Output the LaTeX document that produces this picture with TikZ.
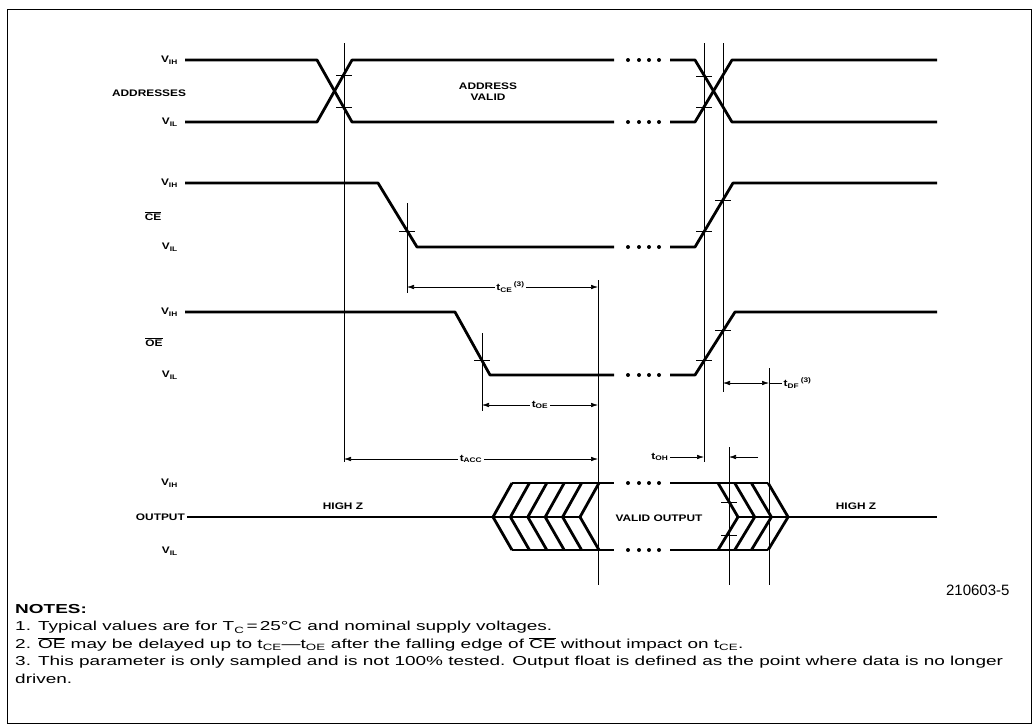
\documentclass[tikz,border=0pt]{standalone}
\usepackage{fontspec}
\setmainfont{Liberation Sans}
\newfontfamily\lblfont{Liberation Sans}[FakeStretch=1.25]
\newfontfamily\notefont{Liberation Sans}[FakeStretch=1.46]
\usetikzlibrary{arrows.meta}

\newcommand{\vih}{V\textsubscript{IH}}
\newcommand{\vil}{V\textsubscript{IL}}
\newcommand{\barsig}[1]{$\overline{\mbox{#1}}$}

\begin{document}
\begin{tikzpicture}[x=1pt, y=-1pt,
    sig/.style={line width=2.8pt, line join=round},
    refline/.style={line width=0.7pt},
    tick/.style={line width=0.7pt},
    dimline/.style={line width=0.6pt, {Latex[length=7pt,width=4.5pt]}-{Latex[length=7pt,width=4.5pt]}},
    lbl/.style={font=\lblfont\bfseries\fontsize{9.5}{11}\selectfont, inner sep=1pt},
    dimlbl/.style={font=\lblfont\bfseries\fontsize{9.5}{11}\selectfont, fill=white, inner sep=1.5pt}]

    \useasboundingbox (0,0) rectangle (1034,726);
    \draw[line width=0.9pt] (7,9) rectangle (1031,723);

    % labels on the left
    \node[lbl, anchor=east] (aih) at (179,60) {\vih};
    \node[lbl] (addr) at (149,93) {ADDRESSES};
    \node[lbl, anchor=east] (ail) at (179,122) {\vil};
    \node[lbl, anchor=east] (cih) at (179,183) {\vih};
    \node[lbl] (ce) at (153,216) {\barsig{CE}};
    \node[lbl, anchor=east] (cil) at (179,247) {\vil};
    \node[lbl, anchor=east] (oih) at (179,312) {\vih};
    \node[lbl] (oe) at (154,342) {\barsig{OE}};
    \node[lbl, anchor=east] (oil) at (179,375) {\vil};
    \node[lbl, anchor=east] (qih) at (179,483) {\vih};
    \node[lbl, anchor=east] (out) at (186,517) {OUTPUT};
    \node[lbl, anchor=east] (qil) at (179,551) {\vil};

    % addresses
    \draw[sig] (185,60) -- (317,60) -- (352,122) -- (614,122);
    \draw[sig] (185,122) -- (317,122) -- (352,60) -- (614,60);
    \draw[sig] (670,60) -- (695,60) -- (732,122) -- (937,122);
    \draw[sig] (670,122) -- (695,122) -- (732,60) -- (937,60);
    \node[lbl, align=center] (valid) at (488,92) {ADDRESS\\VALID};

    % chip enable
    \draw[sig] (185,183) -- (378,183) -- (417,247) -- (614,247);
    \draw[sig] (670,247) -- (695,247) -- (733,183) -- (937,183);

    % output enable
    \draw[sig] (185,312) -- (455,312) -- (490,375) -- (614,375);
    \draw[sig] (670,375) -- (695,375) -- (735,312) -- (937,312);

    % output
    \draw[sig] (187,517) -- (580,517);
    \draw[sig] (512,483) -- (614,483) (670,483) -- (768,483);
    \draw[sig] (512,550) -- (614,550) (670,550) -- (768,550);
    \draw[sig] (738,517) -- (937,517);
    \foreach \k in {0,...,5}
        \draw[sig] ({512+17.4*\k},483) -- ({493+17.4*\k},517) -- ({512+17.4*\k},550);
    \foreach \k in {0,...,3}
        \draw[sig] ({718+16.7*\k},483) -- ({738+16.7*\k},517) -- ({718+16.7*\k},550);
    \node[lbl] (hz1) at (343,506) {HIGH Z};
    \node[lbl] (vout) at (659,518) {VALID OUTPUT};
    \node[lbl] (hz2) at (856,506) {HIGH Z};

    % dotted gaps
    \foreach \y in {60,122,247,375,483,550}
        \foreach \x in {628,639,649,659}
            \fill (\x,\y) circle (2pt);

    % reference lines
    \draw[refline] (344,43) -- (344,462);
    \draw[refline] (704,43) -- (704,462);
    \draw[refline] (723,43) -- (723,392);
    \draw[refline] (407,203) -- (407,293);
    \draw[refline] (482,333) -- (482,411);
    \draw[refline] (598,280) -- (598,585);
    \draw[refline] (729,447) -- (729,585);
    \draw[refline] (769,368) -- (769,585);

    % crossing marks
    \foreach \x/\y in {344/75, 344/107, 704/76, 704/107, 407/231, 704/231,
                       723/200, 482/360, 704/360, 723/330, 729/502, 729/535}
        \draw[tick] (\x-8,\y) -- (\x+8,\y);

    % timing parameters
    \coordinate (ceA) at (407,287);
    \coordinate (ceB) at (598,287);
    \draw[dimline] (ceA) -- (ceB) node[dimlbl, midway, xshift=8pt] (tce) {t\textsubscript{CE}\,\textsuperscript{(3)}};
    \coordinate (oeA) at (482,405);
    \coordinate (oeB) at (598,405);
    \draw[dimline] (oeA) -- (oeB) node[dimlbl, midway] (toe) {t\textsubscript{OE}};
    \coordinate (accA) at (344,459);
    \coordinate (accB) at (598,459);
    \draw[dimline] (accA) -- (accB) node[dimlbl, midway] (tacc) {t\textsubscript{ACC}};
    \coordinate (ohA) at (704,457);
    \coordinate (ohB) at (729,457);
    \node[dimlbl, anchor=east] (toh) at (670,457) {t\textsubscript{OH}};
    \draw[line width=0.6pt, -{Latex[length=7pt,width=4.5pt]}] (toh) -- (ohA);
    \draw[line width=0.6pt, -{Latex[length=7pt,width=4.5pt]}] (758,457) -- (ohB);
    \coordinate (dfA) at (723,383);
    \coordinate (dfB) at (769,383);
    \draw[dimline] (dfA) -- (dfB);
    \node[dimlbl, anchor=west] (tdf) at (782,383) {t\textsubscript{DF}\,\textsuperscript{(3)}};
    \draw[line width=0.6pt] (dfB) -- (tdf);

    \node[anchor=east, font=\fontsize{15}{17}\selectfont] (fig) at (1013,590) {210603-5};

    % notes
    \node[anchor=north west, align=left, inner sep=0pt,
          font=\notefont\fontsize{13}{17.5}\selectfont] (notes) at (15,604) {%
        \textbf{NOTES:}\\
        1. Typical values are for T\textsubscript{C}\,=\,25°C and nominal supply voltages.\\
        2. \barsig{OE} may be delayed up to t\textsubscript{CE}—t\textsubscript{OE} after the falling edge of \barsig{CE} without impact on t\textsubscript{CE}.\\
        3. This parameter is only sampled and is not 100\% tested. Output float is defined as the point where data is no longer\\
        driven.};
\end{tikzpicture}
\end{document}
